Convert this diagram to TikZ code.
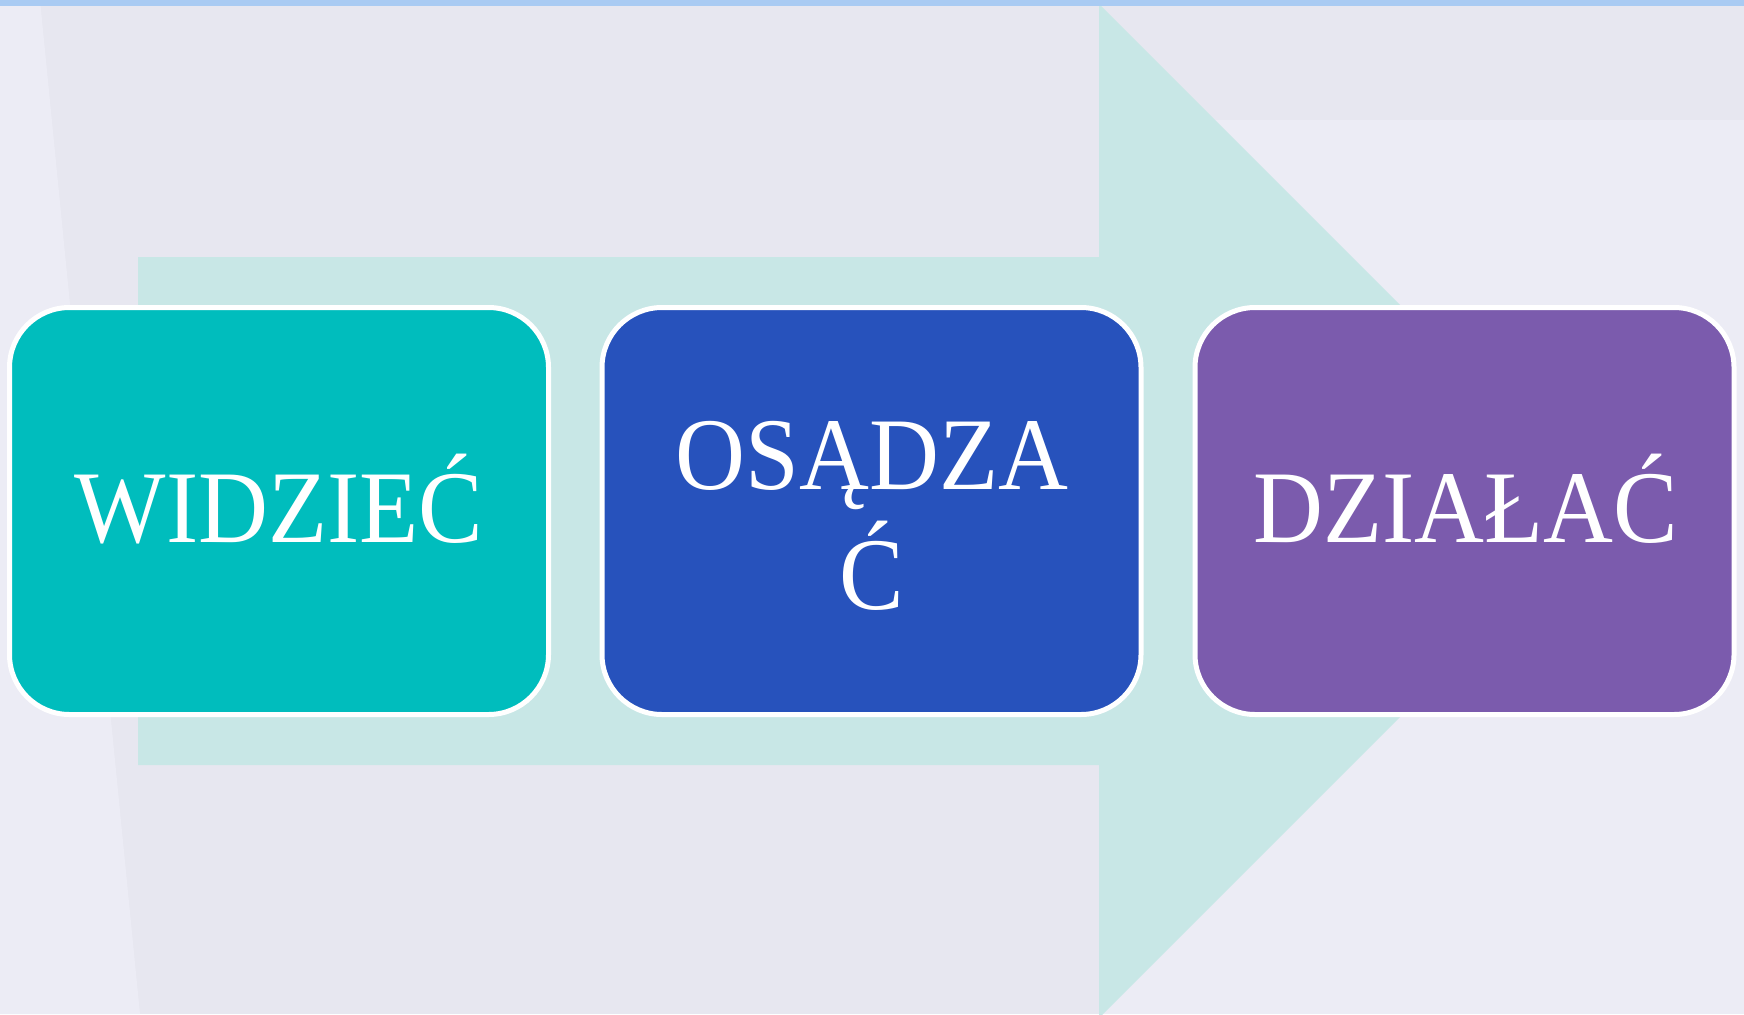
\documentclass[tikz,border=0pt]{standalone}
\usepackage{fontspec}
\setmainfont{Liberation Serif}
\definecolor{bgcol}{HTML}{E7E7F0}
\definecolor{bglight}{HTML}{ECECF5}
\definecolor{barcol}{HTML}{A9CBF3}
\definecolor{arrowcol}{HTML}{C8E7E6}
\definecolor{tealbox}{HTML}{00BDBD}
\definecolor{bluebox}{HTML}{2752BC}
\definecolor{purplebox}{HTML}{7B5BAD}
\tikzset{
  stepbox/.style={draw=white, line width=5pt, rounded corners=60pt,
    minimum width=539pt, minimum height=407pt, inner sep=0pt},
  boxtext/.style={text=white, inner sep=0pt, anchor=base,
    font=\fontsize{103}{106}\selectfont},
}
\newcommand{\sq}[1]{\scalebox{0.94}[1]{#1}}
\begin{document}
\begin{tikzpicture}[x=1pt,y=-1pt]
\useasboundingbox (0,0) rectangle (1744,1014);
% background
\fill[bgcol] (0,0) rectangle (1744,1014);
\fill[bglight] (1100,120) rectangle (1744,1014);
\fill[bglight] (0,0) -- (40,0) -- (140,1014) -- (0,1014) -- cycle;
% arrow
\fill[arrowcol] (138,257) -- (1099,257) -- (1099,4) -- (1606,511)
  -- (1099,1018) -- (1099,765) -- (138,765) -- cycle;
% top bar
\fill[barcol] (0,0) rectangle (1744,6);
% boxes
\node[stepbox, fill=tealbox] (b1) at (279,511) {};
\node[stepbox, fill=bluebox] (b2) at (871.5,511) {};
\node[stepbox, fill=purplebox] (b3) at (1464.5,511) {};
% texts
\node[boxtext] (t1) at (279,542) {\sq{WIDZIEĆ}};
\node[boxtext] (t2) at (872,489) {\sq{\begin{tabular}[t]{@{}c@{}}OSĄDZA\\Ć\end{tabular}}};
\node[boxtext] (t3) at (1466,542) {\sq{DZIAŁAĆ}};
\end{tikzpicture}
\end{document}
